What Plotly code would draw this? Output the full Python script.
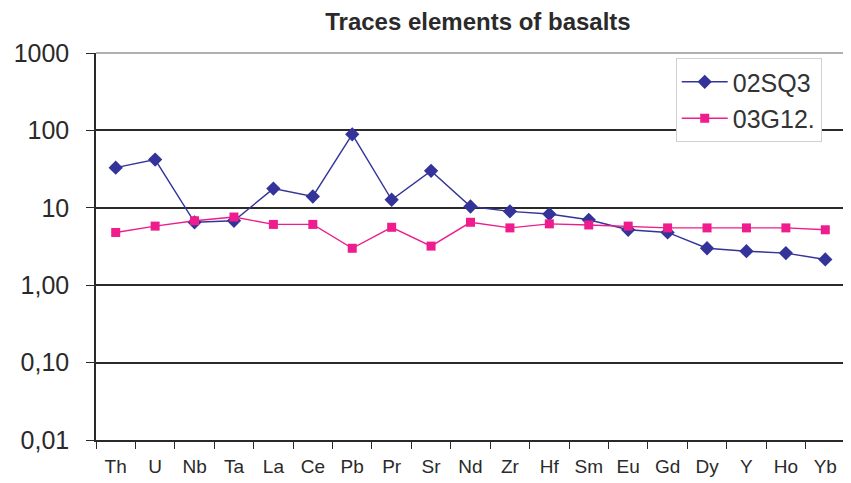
import plotly.graph_objects as go

elements = ["Th", "U", "Nb", "Ta", "La", "Ce", "Pb", "Pr", "Sr", "Nd",
            "Zr", "Hf", "Sm", "Eu", "Gd", "Dy", "Y", "Ho", "Yb"]
s02SQ3 = [33, 42, 6.5, 6.8, 17.7, 14, 89, 12.7, 30, 10.4,
          9.0, 8.3, 7.0, 5.2, 4.8, 3.0, 2.75, 2.6, 2.15]
s03G12 = [4.8, 5.8, 6.8, 7.6, 6.1, 6.1, 3.0, 5.6, 3.2, 6.5,
          5.5, 6.2, 6.0, 5.8, 5.5, 5.5, 5.5, 5.5, 5.2]
ytickvals = [0.01, 0.1, 1, 10, 100, 1000]
yticktext = ["0,01", "0,10", "1,00", "10", "100", "1000"]

font = "Liberation Sans, Arial, sans-serif"
ink = "#2a2a2a"

fig = go.Figure()
fig.add_trace(go.Scatter(x=elements, y=s02SQ3, name="02SQ3", mode="lines+markers",
                         legendgroup="a",
                         line=dict(color="#333399", width=1.4),
                         marker=dict(symbol="diamond", size=11, color="#333399")))
fig.add_trace(go.Scatter(x=elements, y=s03G12, name="03G12.", mode="lines+markers",
                         legendgroup="b",
                         line=dict(color="#EE1C8C", width=1.4),
                         marker=dict(symbol="square", size=9, color="#EE1C8C")))

fig.update_layout(
    width=843, height=475,
    margin=dict(l=85, r=6, t=45, b=43),
    paper_bgcolor="white", plot_bgcolor="white",
    font=dict(family=font, color=ink),
    title=dict(text="Traces elements of basalts", x=0.5575, xanchor="center",
               y=0.972, yanchor="middle",
               font=dict(size=24, family=font, color=ink, weight="bold")),
    showlegend=True,
    legend=dict(x=0.774, y=0.987, xanchor="left", yanchor="top",
                bgcolor="white", bordercolor="#d0d0d0", borderwidth=1,
                font=dict(size=25, family=font, color="#333333"),
                itemwidth=46, traceorder="grouped", tracegroupgap=1),
    xaxis=dict(type="category", range=[-0.5, 18.5], showgrid=False, showline=True,
               linecolor=ink, linewidth=1.5, ticks="outside", ticklen=7,
               tickcolor=ink, tickson="boundaries", ticklabelstandoff=8,
               tickfont=dict(size=19, family=font, color=ink)),
    yaxis=dict(type="log", range=[-2, 3], tickvals=ytickvals, ticktext=yticktext,
               showgrid=True, gridcolor=ink, gridwidth=1.5,
               showline=True, linecolor=ink, linewidth=1.5,
               ticks="outside", ticklen=8, tickcolor=ink, ticklabelstandoff=12,
               tickfont=dict(size=25, family=font, color=ink),
               zeroline=False),
)
# light gray top and right frame
fig.add_shape(type="line", xref="paper", yref="paper", x0=0, y0=1, x1=1, y1=1,
              line=dict(color="#b0b0b0", width=2), layer="above")
fig.add_shape(type="line", xref="paper", yref="paper", x0=1, y0=0, x1=1, y1=1,
              line=dict(color="#b0b0b0", width=2), layer="above")

fig.write_html("out.html")
